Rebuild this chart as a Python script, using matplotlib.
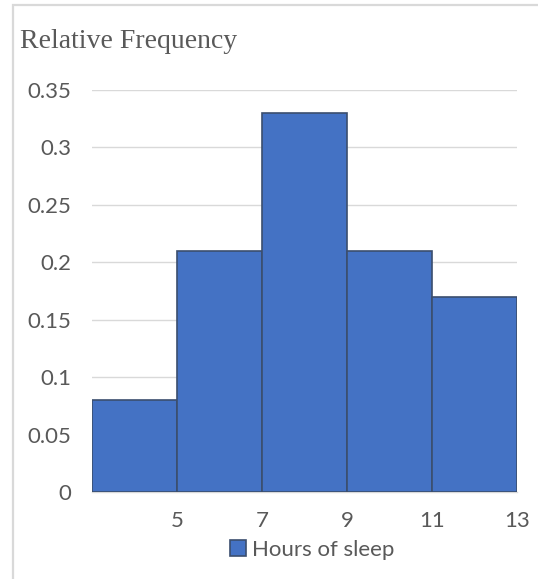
import matplotlib.pyplot as plt
import matplotlib.patches as mpatches

# histogram of hours of sleep, bins two hours wide
bin_edges = [3, 5, 7, 9, 11, 13]
rel_freq = [0.08, 0.21, 0.33, 0.21, 0.17]
x_ticks = [5, 7, 9, 11, 13]
y_ticks = [0, 0.05, 0.1, 0.15, 0.2, 0.25, 0.3, 0.35]
y_labels = ["0", "0.05", "0.1", "0.15", "0.2", "0.25", "0.3", "0.35"]

bar_color = "#4472C4"
edge_color = "#3B4E6E"
grid_color = "#D9D9D9"
text_color = "#595959"

fig = plt.figure(figsize=(5.38, 5.79), dpi=100)
W, H = 538, 579
ax = fig.add_axes([92 / W, (H - 492) / H, (517 - 92) / W, (492 - 90) / H])

# chart border (only left and top visible in the frame)
fig.patches.append(mpatches.Rectangle((12.5 / W, -0.1), 1.2, (H - 5) / H + 0.1,
                                      transform=fig.transFigure, fill=False,
                                      edgecolor=grid_color, linewidth=1.6))

widths = [b - a for a, b in zip(bin_edges[:-1], bin_edges[1:])]
ax.bar(bin_edges[:-1], rel_freq, width=widths, align="edge", color=bar_color,
       edgecolor=edge_color, linewidth=1.2, zorder=3, label="Hours of sleep")

ax.set_xlim(bin_edges[0], bin_edges[-1])
ax.set_ylim(0, 0.35)
ax.set_yticks(y_ticks)
ax.set_yticklabels(y_labels)
ax.set_xticks(x_ticks)
ax.set_xticklabels([str(t) for t in x_ticks])
ax.grid(axis="y", color=grid_color, linewidth=1.0, zorder=0)
for s in ["top", "right", "left"]:
    ax.spines[s].set_visible(False)
ax.spines["bottom"].set_color(grid_color)
ax.spines["bottom"].set_linewidth(1.0)
ax.tick_params(length=0, labelsize=16, labelcolor=text_color)
ax.tick_params(axis="y", pad=15)
ax.tick_params(axis="x", pad=14)
for lab in ax.get_xticklabels() + ax.get_yticklabels():
    lab.set_family("Lato")

fig.text(20 / W, 1 - 42 / H, "Relative Frequency", family="Liberation Serif",
         fontsize=20, color=text_color, va="center", ha="left")

leg = fig.legend(loc="center", bbox_to_anchor=(312 / W, 1 - 550 / H), frameon=False,
                 prop={"family": "Lato", "size": 16}, handlelength=0.75,
                 handleheight=0.75, handletextpad=0.25)
for t in leg.get_texts():
    t.set_color(text_color)

fig.savefig("out.png", dpi=100)
